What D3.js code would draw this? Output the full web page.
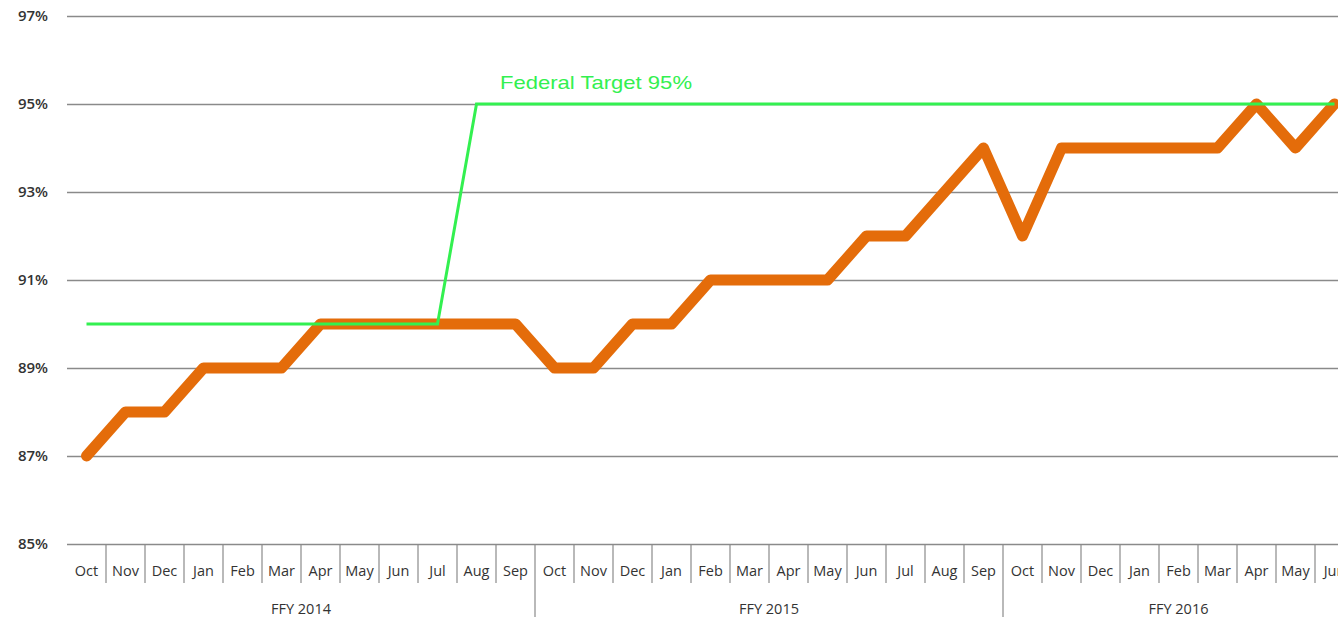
<script src="https://d3js.org/d3.v7.min.js"></script>
<style>
  body { margin: 0; overflow: hidden; background: #fff; }
</style>
<div id="graph"></div>
<script>
// data
var months = ['Oct','Nov','Dec','Jan','Feb','Mar','Apr','May','Jun','Jul','Aug','Sep',
              'Oct','Nov','Dec','Jan','Feb','Mar','Apr','May','Jun','Jul','Aug','Sep',
              'Oct','Nov','Dec','Jan','Feb','Mar','Apr','May','Jun']
var years = [{label:'FFY 2014', start:0, end:12},
             {label:'FFY 2015', start:12, end:24},
             {label:'FFY 2016', start:24, end:33}]
var rate = [87,88,88,89,89,89,90,90,90,90,90,90,
            89,89,90,90,91,91,91,91,92,92,93,94,
            92,94,94,94,94,94,95,94,95]
var target = [90,90,90,90,90,90,90,90,90,90,95,95,
              95,95,95,95,95,95,95,95,95,95,95,95,
              95,95,95,95,95,95,95,95,95]
var yTicks = [85,87,89,91,93,95,97]

var plotLeft = 67, band = 39, plotTop = 16, plotBottom = 544
var width = 1380, height = 617

var svg = d3.select('#graph').append('svg')
  .attr('width', width).attr('height', height)

var x = d3.scaleBand()
  .domain(d3.range(months.length))
  .range([plotLeft, plotLeft + band * months.length])
var y = d3.scaleLinear().domain([85, 97]).range([plotBottom, plotTop])

// y axis + gridlines
var yAxis = svg.append('g')
  .attr('transform', `translate(${plotLeft},0)`)
  .call(d3.axisLeft(y).tickValues(yTicks).tickSize(-(width - plotLeft)).tickPadding(19)
    .tickFormat(function(d) { return d + '%' }))
yAxis.select('.domain').remove()
yAxis.selectAll('line').attr('stroke', '#8a8a8a').attr('stroke-width', 1.5)
yAxis.selectAll('text')
  .attr('font-family', 'Open Sans').attr('font-size', 15)
  .attr('font-weight', 600).attr('fill', '#333')

// month labels
var xAxis = svg.append('g')
  .attr('transform', `translate(0,${plotBottom})`)
  .call(d3.axisBottom(x).tickSize(0).tickPadding(22)
    .tickFormat(function(i) { return months[i] }))
xAxis.select('.domain').remove()
xAxis.selectAll('text')
  .attr('font-family', 'Open Sans').attr('font-size', 14.5).attr('fill', '#333')

// category separators
var seps = d3.range(1, months.length + 1).filter(function(i) {
  return !years.some(function(g) { return g.end === i })
})
svg.append('g').selectAll('line').data(seps).join('line')
  .attr('x1', function(i) { return x(i - 1) + band }).attr('x2', function(i) { return x(i - 1) + band })
  .attr('y1', plotBottom).attr('y2', plotBottom + 39)
  .attr('stroke', '#8a8a8a').attr('stroke-width', 1.2)

// year group separators and labels
svg.append('g').selectAll('line').data(years.slice(0, 2)).join('line')
  .attr('x1', function(g) { return x(g.end - 1) + band }).attr('x2', function(g) { return x(g.end - 1) + band })
  .attr('y1', plotBottom).attr('y2', height)
  .attr('stroke', '#8a8a8a').attr('stroke-width', 1.2)

svg.append('g').selectAll('text').data(years).join('text')
  .attr('x', function(g) { return (x(g.start) + x(g.end - 1) + band) / 2 })
  .attr('y', 614)
  .attr('text-anchor', 'middle')
  .attr('font-family', 'Open Sans').attr('font-size', 14.5).attr('fill', '#333')
  .text(function(g) { return g.label })

// lines
var line = d3.line()
  .x(function(d, i) { return x(i) + x.bandwidth() / 2 })
  .y(function(d) { return y(d) })

svg.append('path').datum(rate)
  .attr('d', line).attr('fill', 'none')
  .attr('stroke', '#e46c0a').attr('stroke-width', 11)
  .attr('stroke-linejoin', 'round').attr('stroke-linecap', 'round')

svg.append('path').datum(target)
  .attr('d', line).attr('fill', 'none')
  .attr('stroke', '#33f050').attr('stroke-width', 3)

// target label
svg.append('text')
  .attr('x', 500).attr('y', 89)
  .attr('font-family', 'Liberation Sans').attr('font-size', 19)
  .attr('fill', '#33f050')
  .attr('textLength', 192).attr('lengthAdjust', 'spacingAndGlyphs')
  .text('Federal Target 95%')
</script>
